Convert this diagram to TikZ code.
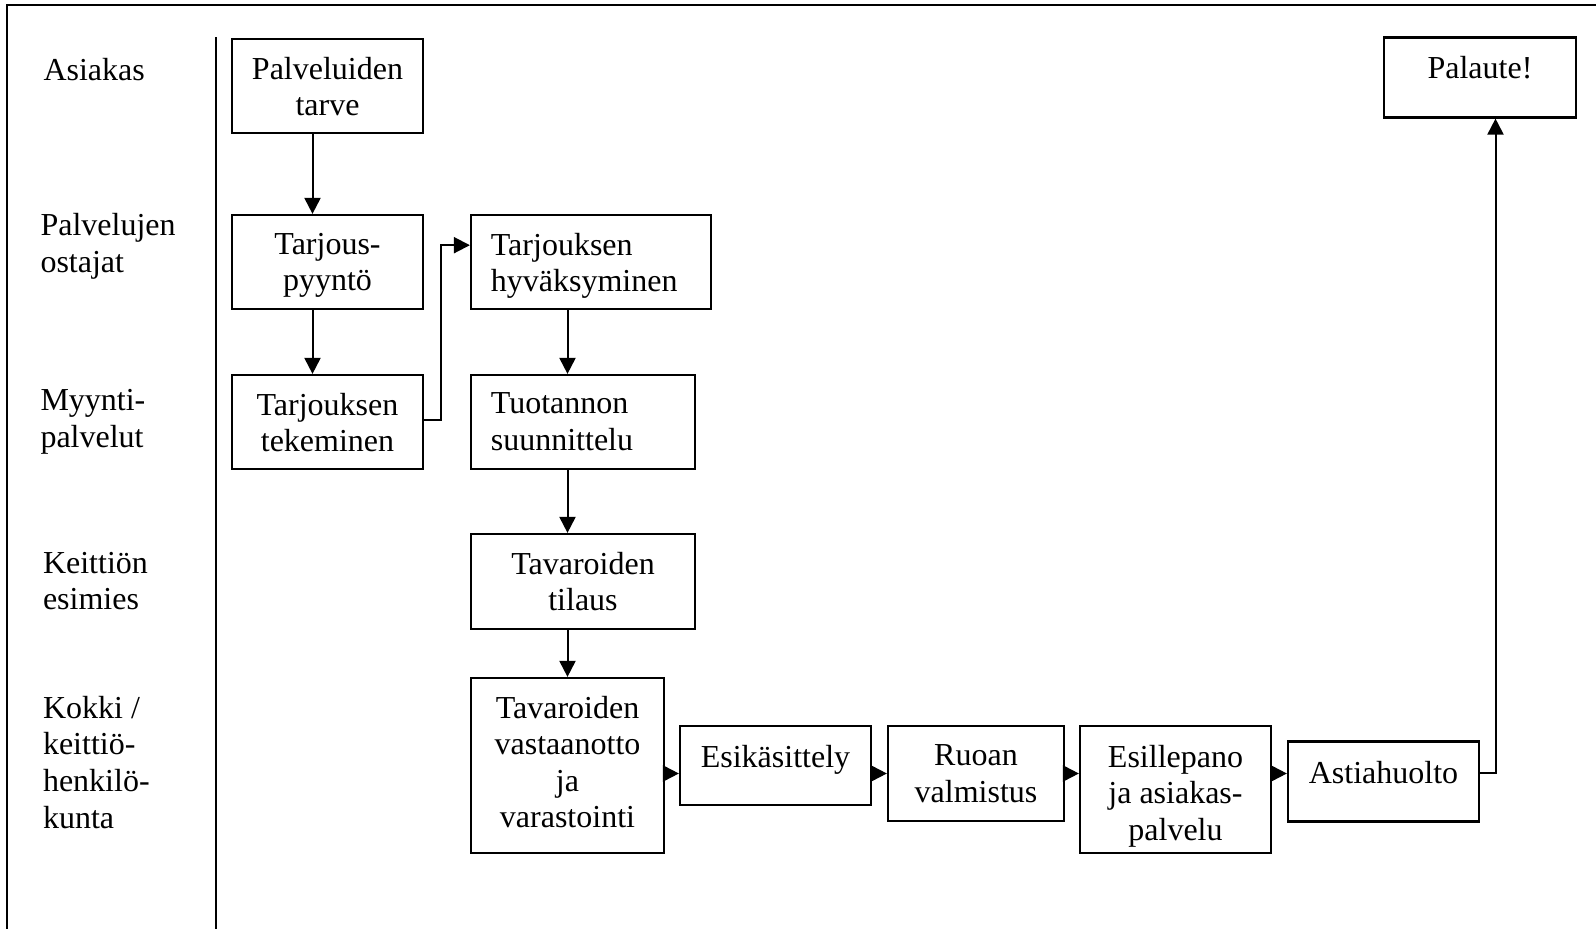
\documentclass[tikz,border=0pt]{standalone}
\usepackage{fontspec}
\setmainfont{Liberation Serif}
\usepackage{tikz}
\tikzset{
every picture/.style={line width=1pt}
}
\usetikzlibrary{arrows.meta}

\tikzset{
box/.style 2 args={draw, line width=1.1pt, minimum width=#1, minimum height=#2, inner sep=0pt},
txt/.style={font=\fontsize{16}{18.3}\selectfont, align=center, inner sep=0pt},
lane/.style={txt, align=left, anchor=north west},
arr/.style={line width=1pt, -{Triangle[length=8pt,width=8pt]}}
}

\begin{document}
\begin{tikzpicture}[x=0.5pt, y=-0.5pt]
      \useasboundingbox (0,0) rectangle (1596,929);
      \draw (6.5,929) -- (6.5,4.7) -- (1596,4.7);
      \draw (216,37.5) -- (216,929);
      % lanes
      \node[lane] (asiakas) at (42.5,57) {Asiakas};
      \node[lane] (ostajat) at (39.5,212.5) {Palvelujen\\ostajat};
      \node[lane] (myynti) at (39.5,388.5) {Myynti-\\palvelut};
      \node[lane] (esimies) at (42,551) {Keittiön\\esimies};
      \node[lane] (kokki) at (42,695) {Kokki /\\keittiö-\\henkilö-\\kunta};
      % steps
      \node[box={95.5pt}{47pt}, label={[txt, anchor=north, yshift=-9pt]north:{Palveluiden\\tarve}}] (tarve) at (327.5,86) {};
      \node[box={95.5pt}{47pt}, label={[txt, anchor=north, yshift=-9pt]north:{Tarjous-\\pyyntö}}] (pyynto) at (327.5,262) {};
      \node[box={95.5pt}{47pt}, label={[txt, anchor=north, yshift=-9pt]north:{Tarjouksen\\tekeminen}}] (tekeminen) at (327.5,422) {};
      \node[box={120pt}{47pt}, label={[txt, align=left, anchor=north west, xshift=10pt, yshift=-9pt]north west:{Tarjouksen\\hyväksyminen}}] (hyvaksyminen) at (591,262) {};
      \node[box={112pt}{47pt}, label={[txt, align=left, anchor=north west, xshift=10pt, yshift=-9pt]north west:{Tuotannon\\suunnittelu}}] (suunnittelu) at (583,422) {};
      \node[box={112pt}{47.5pt}, label={[txt, anchor=north, yshift=-9pt]north:{Tavaroiden\\tilaus}}] (tilaus) at (583,581.5) {};
      \node[box={96.5pt}{87.5pt}, label={[txt, anchor=north, yshift=-9pt]north:{Tavaroiden\\vastaanotto\\ja\\varastointi}}] (vastaanotto) at (567.5,765.5) {};
      \node[box={95.5pt}{39.5pt}, label={[txt, anchor=north, yshift=-9.5pt]north:{Esikäsittely}}] (esikasittely) at (775.5,765.5) {};
      \node[box={88pt}{47.5pt}, label={[txt, anchor=north, yshift=-9.5pt]north:{Ruoan\\valmistus}}] (valmistus) at (976,773.5) {};
      \node[box={95.5pt}{63.5pt}, label={[txt, anchor=north, yshift=-9.5pt]north:{Esillepano\\ja asiakas-\\palvelu}}] (esillepano) at (1175.5,789.5) {};
      \node[box={95.5pt}{40pt}, label={[txt, anchor=north, yshift=-10pt]north:{Astiahuolto}}] (astiahuolto) at (1383.5,781.5) {};
      \node[box={96pt}{40pt}, label={[txt, anchor=north, yshift=-9.5pt]north:{Palaute!}}] (palaute) at (1480,77.5) {};
      % flow
      \draw[arr] ([xshift=-7.5pt]tarve.south) -- ([xshift=-7.5pt]pyynto.north);
      \draw[arr] ([xshift=-7.5pt]pyynto.south) -- ([xshift=-7.5pt]tekeminen.north);
      \draw[arr] ([yshift=1pt]tekeminen.east) -- ++(17,0) |- ([yshift=8.4pt]hyvaksyminen.west);
      \draw[arr] (vastaanotto.north |- hyvaksyminen.south) -- (vastaanotto.north |- suunnittelu.north);
      \draw[arr] (vastaanotto.north |- suunnittelu.south) -- (vastaanotto.north |- tilaus.north);
      \draw[arr] (vastaanotto.north |- tilaus.south) -- (vastaanotto.north);
      \draw[arr] (vastaanotto.east |- valmistus.west) -- (esikasittely.west |- valmistus.west);
      \draw[arr] (esikasittely.east |- valmistus.west) -- (valmistus.west);
      \draw[arr] (valmistus.east) -- (esillepano.west |- valmistus.east);
      \draw[arr] (esillepano.east |- valmistus.east) -- (astiahuolto.west |- valmistus.east);
      \draw[arr] (astiahuolto.east |- valmistus.east) -| ([xshift=7.75pt]palaute.south);
    \end{tikzpicture}
\end{document}
